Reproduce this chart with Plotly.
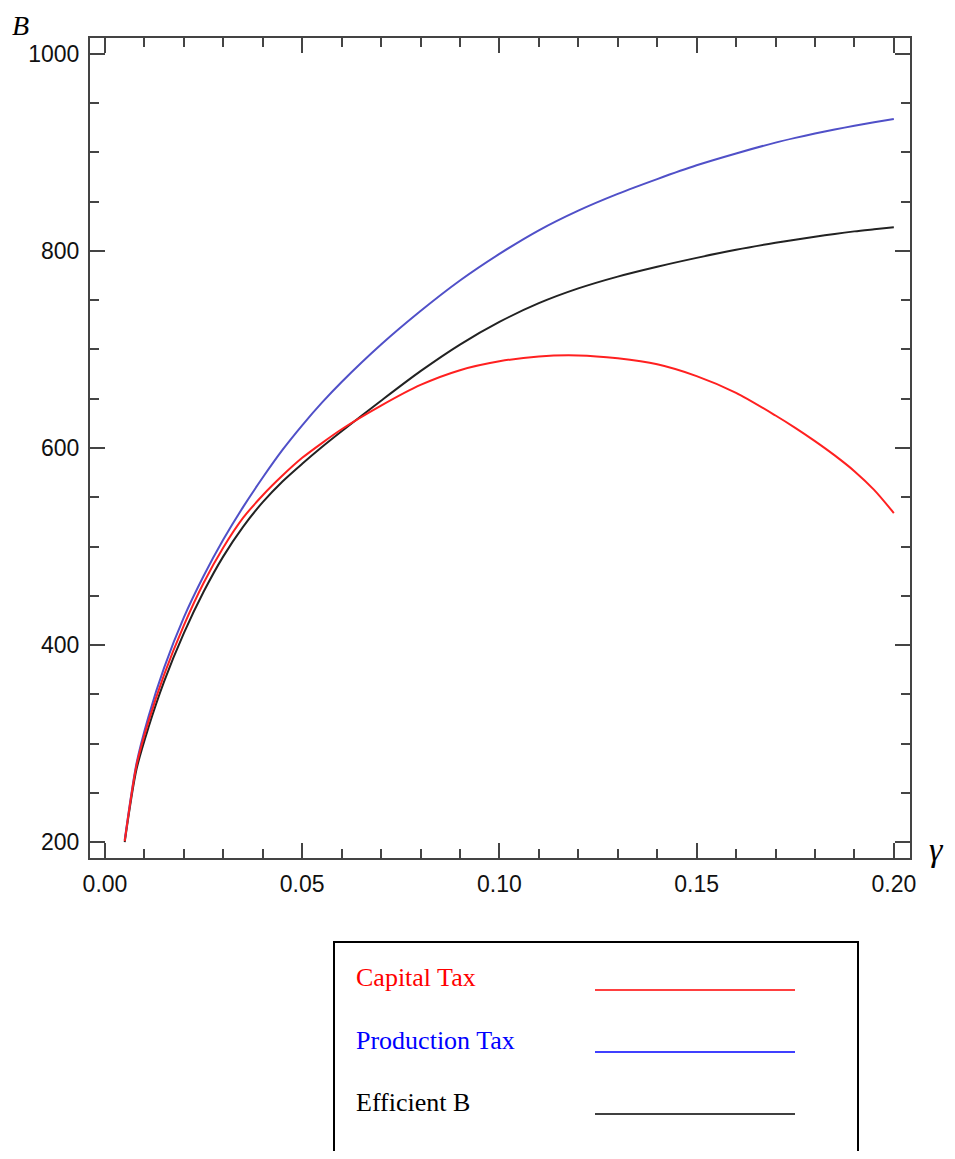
import plotly.graph_objects as go

# ---- data ----
gamma = [0.005, 0.008, 0.011, 0.015, 0.02, 0.025, 0.03, 0.035, 0.04, 0.045,
         0.05, 0.055, 0.06, 0.07, 0.08, 0.09, 0.10, 0.11, 0.12, 0.13,
         0.14, 0.15, 0.16, 0.17, 0.175, 0.18, 0.185, 0.19, 0.195, 0.20]
capital_tax = [201, 278, 322, 370, 420, 463, 499, 529, 552, 572,
               590, 605, 619, 643, 664, 679, 688, 693, 694, 691,
               685, 673, 656, 633, 620.5, 607, 592.5, 576.5, 557.5, 534]
production_tax = [202, 280, 327, 377, 428, 470, 507, 540, 570, 598,
                  623, 646, 667, 705, 739, 770, 797, 821, 841, 858,
                  873, 887, 899, 910, 914.8, 919.2, 923.3, 927.1, 930.7, 934]
efficient_b = [200, 274, 316, 363, 412, 454, 490, 520, 545, 566,
               584, 601, 617, 648, 678, 705, 728, 747, 762, 774,
               784, 793, 801.2, 808.3, 811.5, 814.5, 817.3, 819.9, 822.0, 824]

x_ticks = [0.0, 0.05, 0.10, 0.15, 0.20]
x_tick_text = ["0.00", "0.05", "0.10", "0.15", "0.20"]
y_ticks = [200, 400, 600, 800, 1000]
y_tick_text = ["200", "400", "600", "800", "1000"]

legend_labels = ["Capital Tax", "Production Tax", "Efficient B"]
legend_colors = ["#ff0000", "#0000ff", "#000000"]

RED = "#ff2020"
BLUE = "#5050c8"
BLACK = "#222222"
FRAME = "#444444"

fig = go.Figure()
for y, c in [(efficient_b, BLACK), (production_tax, BLUE), (capital_tax, RED)]:
    fig.add_trace(go.Scatter(x=gamma, y=y, mode="lines",
                             line=dict(color=c, width=2, shape="spline", smoothing=0.8),
                             showlegend=False, hoverinfo="skip"))

tickfont = dict(family="Liberation Sans", size=23, color="#111111")
common = dict(showgrid=False, zeroline=False, showline=True, linewidth=2,
              linecolor=FRAME, mirror="ticks", ticks="inside", ticklen=15,
              tickwidth=2, tickcolor=FRAME, tickfont=tickfont)

fig.update_xaxes(range=[-0.0038, 0.2041], tickvals=x_ticks, ticktext=x_tick_text,
                 minor=dict(dtick=0.01, tick0=0, ticks="inside", ticklen=9,
                            tickwidth=2, tickcolor=FRAME),
                 ticklabelstandoff=4, **common)
fig.update_yaxes(range=[183.8, 1016.2], tickvals=y_ticks, ticktext=y_tick_text,
                 minor=dict(dtick=50, tick0=0, ticks="inside", ticklen=9,
                            tickwidth=2, tickcolor=FRAME),
                 ticklabelstandoff=4, **common)

OFF = 8  # page body margin
W, H = 955 - 2 * OFF, 1159 - 2 * OFF
L, T = 90 - OFF, 38 - OFF
R = W - (910 - OFF)
B = H - (858 - OFF)
pw = W - L - R
ph = H - T - B


def px(xp):
    return (xp - OFF - L) / pw


def py(yp):
    return (H - B - (yp - OFF)) / ph


annotations = [
    dict(text="<i>B</i>", x=px(20), y=py(OFF), xref="paper", yref="paper",
         showarrow=False, xanchor="center", yanchor="top",
         font=dict(family="Liberation Serif", size=28, color="#000")),
    dict(text="<i>γ</i>", x=px(946), y=py(849), xref="paper", yref="paper",
         showarrow=False, xanchor="right", yanchor="middle",
         font=dict(family="Liberation Serif", size=34, color="#000")),
]
shapes = [
    dict(type="rect", xref="paper", yref="paper", x0=px(334), x1=px(858),
         y0=py(942), y1=py(1185), line=dict(color="#000", width=2),
         fillcolor="rgba(0,0,0,0)"),
]
row_y = [978, 1040, 1102]
for lab, col, yc in zip(legend_labels, legend_colors, row_y):
    annotations.append(dict(text=lab, x=px(354), y=py(yc), xref="paper", yref="paper",
                            showarrow=False, xanchor="left", yanchor="middle",
                            font=dict(family="Liberation Serif", size=26, color=col)))
    shapes.append(dict(type="line", xref="paper", yref="paper", x0=px(595), x1=px(795),
                       y0=py(yc + 12), y1=py(yc + 12), line=dict(color=col, width=1.5)))

fig.update_layout(width=W, height=H, margin=dict(l=L, r=R, t=T, b=B),
                  plot_bgcolor="white", paper_bgcolor="white",
                  annotations=annotations, shapes=shapes, showlegend=False)

fig.write_html("out.html")
